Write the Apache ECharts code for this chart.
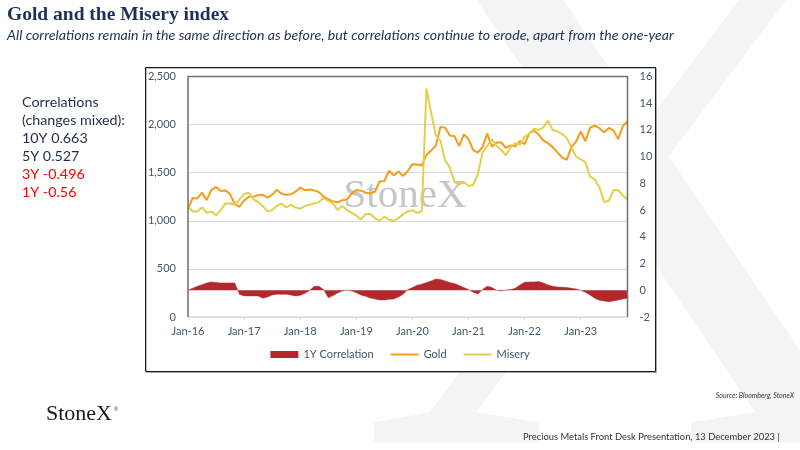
<!DOCTYPE html>
<html lang="en">
<head>
    <meta charset="UTF-8">
    <title>Gold and the Misery index</title>
    <script src="https://cdn.jsdelivr.net/npm/echarts@6/dist/echarts.min.js"></script>
    <style>
        html, body { margin: 0; padding: 0; background: #fff; }
        #main { width: 800px; height: 450px; }
    </style>
</head>
<body>
<div id="main"></div>
<script type="text/javascript">
    // monthly data, Jan-16 .. Nov-23
    var years = ['16', '17', '18', '19', '20', '21', '22', '23'];
    var monthNames = ['Jan', 'Feb', 'Mar', 'Apr', 'May', 'Jun', 'Jul', 'Aug', 'Sep', 'Oct', 'Nov', 'Dec'];
    var lastMonthCount = 11;

    var gold = [
        1118, 1238, 1233, 1293, 1215, 1322, 1351, 1309, 1316, 1277, 1173, 1146,
        1211, 1249, 1249, 1268, 1269, 1242, 1269, 1322, 1280, 1271, 1275, 1303,
        1345, 1318, 1325, 1316, 1298, 1253, 1224, 1202, 1192, 1215, 1222, 1282,
        1321, 1313, 1292, 1284, 1305, 1409, 1414, 1520, 1472, 1513, 1464, 1517,
        1589, 1585, 1577, 1686, 1730, 1781, 1975, 1968, 1886, 1879, 1776, 1898,
        1848, 1734, 1708, 1769, 1907, 1770, 1814, 1814, 1757, 1783, 1774, 1829,
        1797, 1909, 1937, 1897, 1837, 1807, 1766, 1711, 1660, 1633, 1768, 1824,
        1928, 1827, 1969, 1990, 1962, 1919, 1965, 1940, 1849, 1983, 2036
    ];

    var misery = [
        6.3, 5.9, 5.9, 6.2, 5.8, 5.9, 5.6, 6.0, 6.5, 6.5, 6.4, 6.8,
        7.2, 7.3, 6.8, 6.6, 6.3, 5.9, 6.0, 6.3, 6.5, 6.2, 6.4, 6.2,
        6.1, 6.3, 6.4, 6.5, 6.6, 6.9, 6.7, 6.5, 6.0, 6.3, 6.0, 5.8,
        5.6, 5.3, 5.7, 5.7, 5.4, 5.2, 5.5, 5.3, 5.2, 5.4, 5.7, 5.9,
        6.0, 5.8, 5.9, 15.1, 13.3, 11.6, 11.2, 9.7, 9.2, 8.1, 7.9, 8.1,
        7.8, 7.9, 8.7, 10.3, 10.8, 11.3, 10.8, 10.5, 10.1, 10.7, 11.0, 10.9,
        11.5, 11.7, 12.1, 12.0, 12.2, 12.7, 12.0, 11.9, 11.7, 11.4, 10.7, 10.0,
        9.8, 9.6, 8.5, 8.3, 7.7, 6.6, 6.7, 7.5, 7.5, 7.1, 6.8
    ];

    var corr1y = [
        0, 0.15, 0.3, 0.42, 0.55, 0.62, 0.58, 0.55, 0.55, 0.55, 0.55, -0.3,
        -0.42, -0.42, -0.42, -0.42, -0.6, -0.5, -0.35, -0.3, -0.3, -0.3, -0.35, -0.42,
        -0.38, -0.23, -0.02, 0.3, 0.3, 0.05, -0.55, -0.4, -0.2, -0.05, 0.02, -0.05,
        -0.18, -0.35, -0.45, -0.58, -0.65, -0.72, -0.72, -0.68, -0.65, -0.5, -0.3, 0.05,
        0.2, 0.38, 0.45, 0.58, 0.7, 0.84, 0.8, 0.7, 0.58, 0.5, 0.35, 0.2,
        0.05, -0.15, -0.28, 0.05, 0.3, 0.2, 0.0, -0.05, 0.02, 0.05, 0.15, 0.4,
        0.6, 0.62, 0.62, 0.65, 0.55, 0.4, 0.3, 0.25, 0.22, 0.2, 0.15, 0.1,
        0.0, -0.15, -0.35, -0.6, -0.75, -0.8, -0.85, -0.8, -0.72, -0.65, -0.6
    ];

    var correlationLines = [
        {text: 'Correlations', color: '#1f2d4d'},
        {text: '(changes mixed):', color: '#1f2d4d'},
        {text: '10Y 0.663', color: '#1f2d4d'},
        {text: '5Y 0.527', color: '#1f2d4d'},
        {text: '3Y -0.496', color: '#ff0000'},
        {text: '1Y -0.56', color: '#ff0000'}
    ];

    var months = [];
    years.forEach(function (y, yi) {
        var n = yi === years.length - 1 ? lastMonthCount : 12;
        for (var m = 0; m < n; m++) {
            months.push(monthNames[m] + '-' + y);
        }
    });

    var navy = '#1f2f5c';
    var axisGrey = '#44546a';
    var font = 'Lato, "Open Sans", sans-serif';

    var graphics = [
        // big pale X watermark behind everything
        {
            type: 'text', z: -10, x: 635, y: 240,
            style: {
                text: 'X', fill: '#f3f4f6', align: 'center', verticalAlign: 'middle',
                font: 'normal 770px "Liberation Serif", serif'
            }
        },
        // chart frame
        {
            type: 'rect', z: -5,
            shape: {x: 145.5, y: 67.5, width: 510, height: 304},
            style: {fill: '#fff', stroke: '#1a1a1a', lineWidth: 1, shadowColor: 'rgba(0,0,0,0.25)', shadowOffsetX: 1, shadowOffsetY: 1}
        },
        {
            type: 'text', z: -4, x: 405, y: 196,
            style: {
                text: 'StoneX', fill: '#c6c6c6', align: 'center', verticalAlign: 'middle',
                font: 'normal 41px "Liberation Serif", serif'
            }
        },
        {
            type: 'text', z: 10, left: 7, top: 5,
            style: {text: 'Gold and the Misery index', fill: navy, font: 'bold 19.5px "Liberation Serif", serif'}
        },
        {
            type: 'text', z: 10, left: 7, top: 28,
            style: {
                text: 'All correlations remain in the same direction as before, but correlations continue to erode, apart from the one-year',
                fill: navy, font: 'italic 14.2px ' + font
            }
        },
        {
            type: 'text', z: 10, right: 6, top: 392,
            style: {text: 'Source: Bloomberg, StoneX', fill: '#333', font: 'italic 7px ' + font}
        },
        {
            type: 'text', z: 10, left: 46, top: 403,
            style: {text: 'StoneX', fill: '#1a1a1a', font: 'normal 22px "Liberation Serif", serif'}
        },
        {
            type: 'text', z: 10, left: 114, top: 407,
            style: {text: '®', fill: '#1a1a1a', font: 'normal 5px sans-serif'}
        },
        {
            type: 'text', z: 10, left: 523, top: 432,
            style: {text: 'Precious Metals Front Desk Presentation, 13 December 2023 |', fill: '#333', font: 'normal 9.4px ' + font}
        },
        // plot area border (top, left, right)
        {
            type: 'polyline', z: 5,
            shape: {points: [[188, 317], [188, 76.5], [627.5, 76.5], [627.5, 317]]},
            style: {stroke: '#6f6f6f', lineWidth: 1.5, fill: null}
        }
    ];

    correlationLines.forEach(function (l, i) {
        graphics.push({
            type: 'text', z: 10, left: 22, top: 95 + i * 18,
            style: {text: l.text, fill: l.color, font: 'normal 14.3px ' + font}
        });
    });

    var myChart = echarts.init(document.getElementById('main'));

    var option = {
        backgroundColor: '#fff',
        animation: false,
        graphic: graphics,
        grid: {left: 188, right: 172.5, top: 76.5, bottom: 133},
        legend: {
            top: 344, left: 'center',
            itemWidth: 28, itemHeight: 7, itemGap: 16,
            textStyle: {color: axisGrey, fontSize: 11, fontFamily: font},
            data: [
                {name: '1Y Correlation', icon: 'rect'},
                {name: 'Gold', itemStyle: {opacity: 0}},
                {name: 'Misery', itemStyle: {opacity: 0}}
            ]
        },
        xAxis: {
            type: 'category',
            data: months,
            boundaryGap: false,
            axisLine: {lineStyle: {color: '#d6dce5', width: 1.5}},
            axisTick: {
                length: 3, lineStyle: {color: '#d6dce5'},
                interval: function (i) { return i % 12 === 0; }
            },
            axisLabel: {
                color: axisGrey, fontSize: 11, fontFamily: font, margin: 9,
                interval: function (i) { return i % 12 === 0; }
            }
        },
        yAxis: [
            {
                type: 'value', min: 0, max: 2500, interval: 500,
                axisLine: {show: false}, axisTick: {show: false},
                splitLine: {lineStyle: {color: '#d9d9d9', width: 1}},
                axisLabel: {
                    color: axisGrey, fontSize: 11, fontFamily: font, margin: 12,
                    formatter: function (v) { return v.toLocaleString('en-US'); }
                }
            },
            {
                type: 'value', min: -2, max: 16, interval: 2,
                axisLine: {show: false}, axisTick: {show: false},
                splitLine: {show: false},
                axisLabel: {color: axisGrey, fontSize: 11, fontFamily: font, margin: 12}
            }
        ],
        series: [
            {
                name: '1Y Correlation', type: 'line', yAxisIndex: 1,
                data: corr1y, symbol: 'none',
                lineStyle: {width: 0.5, color: '#b3282d'},
                itemStyle: {color: '#b3282d'},
                areaStyle: {color: '#b3282d', opacity: 1, origin: 0}
            },
            {
                name: 'Gold', type: 'line', yAxisIndex: 0,
                data: gold, symbol: 'none',
                lineStyle: {width: 2, color: '#f59d17'},
                itemStyle: {color: '#f59d17'}
            },
            {
                name: 'Misery', type: 'line', yAxisIndex: 1,
                data: misery, symbol: 'none',
                lineStyle: {width: 2, color: '#e4cf4c'},
                itemStyle: {color: '#e4cf4c'}
            }
        ]
    };

    myChart.setOption(option);
</script>
</body>
</html>
